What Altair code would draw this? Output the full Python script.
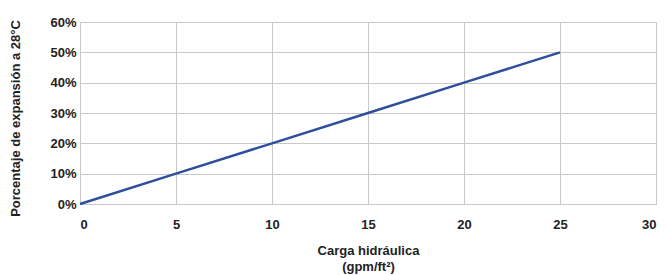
import altair as alt
import pandas as pd

carga = [0, 5, 10, 15, 20, 25]
expansion = [0.0, 0.10, 0.20, 0.30, 0.40, 0.50]

df = pd.DataFrame({"carga": carga, "expansion": expansion})

FONT = "Liberation Sans"

chart = alt.Chart(df).mark_line(color="#2f4f9e", strokeWidth=2.5).encode(
    x=alt.X(
        "carga:Q",
        scale=alt.Scale(domain=[0, 30], nice=False, zero=True),
        axis=alt.Axis(
            values=[0, 5, 10, 15, 20, 25, 30],
            ticks=False,
            domain=True,
            domainColor="#c8c8c8",
            gridColor="#c8c8c8",
            labelPadding=14,
            labelFont=FONT,
            labelFontSize=13,
            labelFontWeight="bold",
            labelColor="#222222",
            title=["Carga hidráulica", "(gpm/ft²)"],
            titleFont=FONT,
            titleFontSize=13,
            titleFontWeight="bold",
            titleColor="#222222",
            titleBaseline="top",
            titleY=40,
            titleLineHeight=16,
        ),
    ),
    y=alt.Y(
        "expansion:Q",
        scale=alt.Scale(domain=[0, 0.6], nice=False),
        axis=alt.Axis(
            values=[0, 0.1, 0.2, 0.3, 0.4, 0.5, 0.6],
            format=".0%",
            ticks=False,
            domain=True,
            domainColor="#c8c8c8",
            gridColor="#c8c8c8",
            labelPadding=4,
            labelFont=FONT,
            labelFontSize=13,
            labelFontWeight="bold",
            labelColor="#222222",
            title="Porcentaje de expansión a 28°C",
            titleFont=FONT,
            titleFontSize=13,
            titleFontWeight="bold",
            titleColor="#222222",
            titleAngle=-90,
            titleAlign="center",
            titleBaseline="middle",
            titleX=-65,
            titleY=96,
        ),
    ),
).properties(
    width=576,
    height=182,
    autosize=alt.AutoSizeParams(type="none"),
    padding={"left": 72, "top": 14, "right": 3, "bottom": 80},
).configure_view(stroke="#c8c8c8")

chart.save("out.html", embed_options={"renderer": "svg", "actions": False})
